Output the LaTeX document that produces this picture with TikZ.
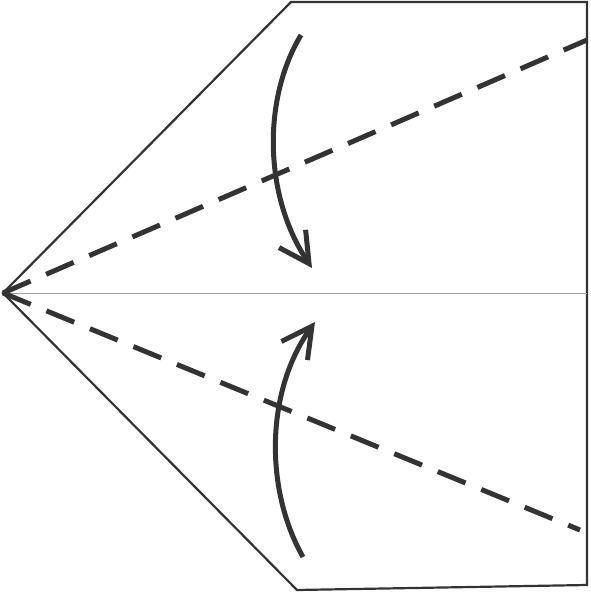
\documentclass[tikz,border=0pt]{standalone}
\usetikzlibrary{arrows.meta}
\definecolor{ink}{HTML}{333333}
\definecolor{midline}{HTML}{A0A0A0}
\tikzset{
  paper/.style={draw=ink, line width=2.2pt, line join=miter},
  crease/.style={draw=midline, line width=1pt},
  valley/.style={draw=ink, line width=5pt, dash pattern=on 30pt off 17pt},
  foldarrow/.style={draw=ink, line width=5pt, -{Straight Barb[length=30pt,width=32pt,line join=miter]}}
}
\begin{document}
\begin{tikzpicture}[x=1pt,y=-1pt]
\useasboundingbox (0,0) rectangle (590,593);
\coordinate (tip) at (3,293);
\coordinate (tl) at (291,2);
\coordinate (tr) at (587,2);
\coordinate (br) at (587,585);
\coordinate (bl) at (297,590);
\coordinate (mr) at (587,293);
\coordinate (du) at (587,40);
\coordinate (dl) at (580,530);
\coordinate (a1s) at (301,35);
\coordinate (a1e) at (312,268);
\coordinate (a2s) at (303,557);
\coordinate (a2e) at (315,322);
\draw[paper] (tip) -- (tl) -- (tr) -- (br) -- (bl) -- cycle;
\draw[crease] (tip) -- (mr);
\draw[valley] (tip) -- (du);
\draw[valley] (tip) -- (dl);
\draw[foldarrow] (a1s) .. controls (263,98) and (263,195) .. (a1e);
\draw[foldarrow] (a2s) .. controls (265,490) and (265,392) .. (a2e);
\end{tikzpicture}
\end{document}
